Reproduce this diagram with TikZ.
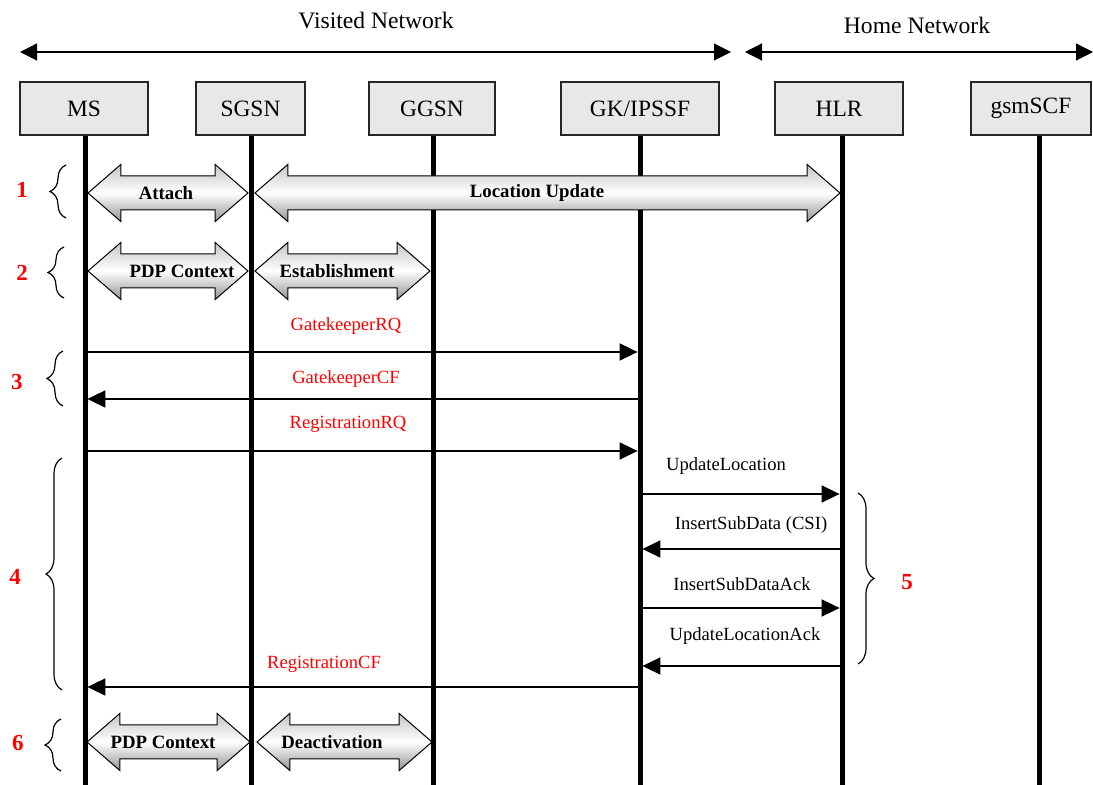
\documentclass[tikz,border=0pt]{standalone}
\usepackage{fontspec}
\setmainfont{Liberation Serif}
\usepackage{tikz}
\usetikzlibrary{arrows.meta}
\usetikzlibrary{shapes.arrows}
\usetikzlibrary{decorations.pathreplacing}
\definecolor{boxgray}{RGB}{232,232,232}
\definecolor{numred}{RGB}{255,0,0}
\tikzset{
  entbox/.style={draw=black!85,fill=boxgray,line width=0.6pt,minimum height=26.5pt,inner sep=0pt,font=\fontsize{11.7}{14}\selectfont},
  life/.style={line width=2.5pt},
  fatarrow/.style={double arrow,draw,line width=0.5pt,inner sep=0pt,text height=16.5pt,text depth=0pt,
    double arrow head extend=5.75pt,double arrow tip angle=82,top color=gray!45,bottom color=gray!85,middle color=white},
  fatlabel/.style={inner sep=0pt,font=\fontsize{9.4}{11}\bfseries},
  msgline/.style={line width=0.9pt,-{Triangle[length=9pt,width=8.5pt]},shorten >=1.2pt},
  msgfont/.style={inner sep=0pt,font=\fontsize{9.3}{11}\selectfont},
  netline/.style={line width=0.6pt,{Triangle[length=8.5pt,width=8.5pt]}-{Triangle[length=8.5pt,width=8.5pt]}},
  netlabel/.style={inner sep=0pt,font=\fontsize{11.8}{14}\selectfont},
  grpbrace/.style={decorate,decoration={brace,amplitude=8pt},line width=0.6pt},
  numlabel/.style={inner sep=0pt,text=numred,font=\fontsize{11.5}{13}\bfseries}
}
% name, box centre, box width, lifeline x, text
\newcommand{\entity}[5]{\node[entbox,minimum width=#3] (#1) at (#2,108.5) {#5};
  \coordinate (#1-foot) at (#4,785);
  \draw[life] (#1.south -| #1-foot) -- (#1-foot);}
% name, centre x, y, length, label x, text
\newcommand{\fat}[6]{\node[fatarrow,minimum height=#4] (#1) at (#2,#3) {};
  \node[fatlabel] (#1-t) at (#5,#3) {#6};}
% name, from, to, y, colour, label x, label y, text
\newcommand{\msg}[8]{\coordinate (#1-a) at (#2-foot |- 0,#4);
  \coordinate (#1-b) at (#3-foot |- 0,#4);
  \draw[msgline] (#1-a) -- (#1-b);
  \node[msgfont,text=#5] (#1-t) at (#6,#7) {#8};}
% name, x, top y, bottom y
\newcommand{\stepgroup}[4]{\coordinate (#1-lo) at (#2,#4);
  \coordinate (#1-hi) at (#2,#3);
  \draw[grpbrace] (#1-lo) -- (#1-hi);}

\begin{document}
\begin{tikzpicture}[x=0.5pt,y=-0.5pt]
  \useasboundingbox (0,0) rectangle (1093,785);

  % networks
  \node[netlabel] (visited) at (376,20) {Visited Network};
  \node[netlabel] (home) at (917,25) {Home Network};
  \coordinate (vl) at (20,52);
  \coordinate (vr) at (731,52);
  \coordinate (hl) at (745,52);
  \coordinate (hr) at (1093,52);
  \draw[netline] (vl) -- (vr);
  \draw[netline] (hl) -- (hr);

  % entities
  \entity{ms}{84}{64pt}{85}{MS}
  \entity{sgsn}{250.5}{54.5pt}{251}{SGSN}
  \entity{ggsn}{432}{63pt}{433}{GGSN}
  \entity{gk}{640}{79pt}{640}{GK/IPSSF}
  \entity{hlr}{839}{64pt}{842}{HLR}
  \entity{scf}{1031}{60pt}{1039}{gsmSCF}

  % 1 and 2
  \fat{attach}{168}{193}{80pt}{166}{Attach}
  \fat{locupd}{547.5}{193}{292.5pt}{537}{Location Update}
  \fat{pdpup}{168}{271}{80pt}{182}{PDP Context}
  \fat{estab}{342.5}{271}{87.5pt}{337}{Establishment}

  % 3 and 4
  \msg{gkrq}{ms}{gk}{352}{numred}{346}{326}{GatekeeperRQ}
  \msg{gkcf}{gk}{ms}{399}{numred}{346}{379}{GatekeeperCF}
  \msg{regrq}{ms}{gk}{451}{numred}{348}{424}{RegistrationRQ}
  \msg{regcf}{gk}{ms}{687}{numred}{324}{664}{RegistrationCF}

  % 5
  \msg{updloc}{gk}{hlr}{494}{black}{726}{466}{UpdateLocation}
  \msg{isd}{hlr}{gk}{549}{black}{751}{525}{InsertSubData (CSI)}
  \msg{isdack}{gk}{hlr}{608}{black}{742}{584}{InsertSubDataAck}
  \msg{ulack}{hlr}{gk}{666}{black}{745}{636}{UpdateLocationAck}

  % 6
  \fat{pdpdown}{168.5}{742}{81.5pt}{163}{PDP Context}
  \fat{deact}{344.5}{742}{87.5pt}{332}{Deactivation}

  % braces
  \stepgroup{g1}{66}{165}{218}
  \stepgroup{g2}{64}{247}{298}
  \stepgroup{g3}{63}{351}{406}
  \stepgroup{g4}{62}{458}{690}
  \stepgroup{g6}{61}{719}{771}
  \coordinate (g5-hi) at (858,493);
  \coordinate (g5-lo) at (858,664);
  \draw[grpbrace] (g5-hi) -- (g5-lo);

  \node[numlabel] (n1) at (22,190) {1};
  \node[numlabel] (n2) at (22,273) {2};
  \node[numlabel] (n3) at (17,382) {3};
  \node[numlabel] (n4) at (15,577) {4};
  \node[numlabel] (n5) at (907,582) {5};
  \node[numlabel] (n6) at (18,743) {6};
\end{tikzpicture}
\end{document}
